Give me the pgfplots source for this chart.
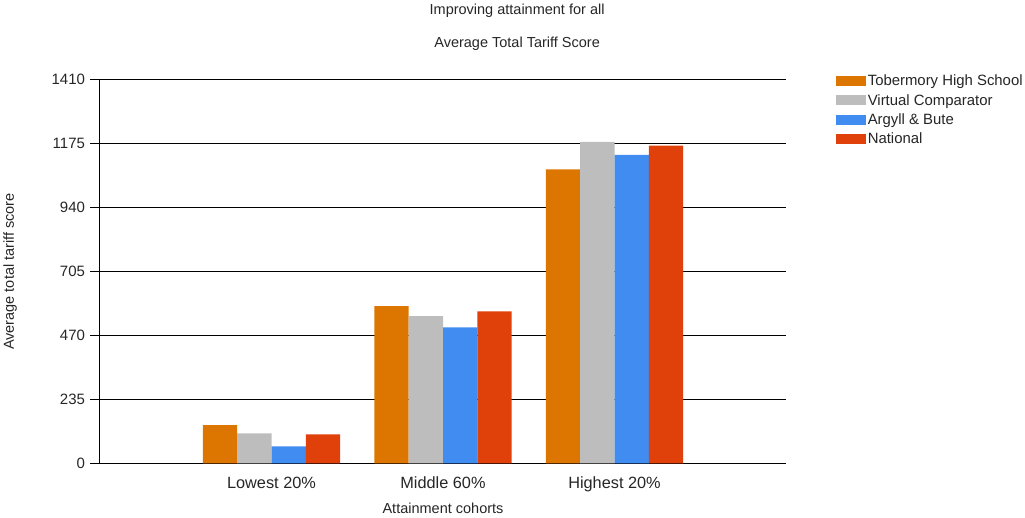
\documentclass[border=0pt]{standalone}
\usepackage{pgfplots}
\pgfplotsset{compat=1.18}
\usepackage{fontspec}
\setmainfont{Liberation Sans}

\definecolor{tobOrange}{HTML}{DD7600}
\definecolor{vcGray}{HTML}{BDBDBD}
\definecolor{abBlue}{HTML}{418CF0}
\definecolor{natRed}{HTML}{E0400A}

\pgfplotsset{
  swatch legend/.style={legend image code/.code={\fill[##1,draw=none] (0pt,-5pt) rectangle (30pt,5pt);}},
}

\begin{document}
\begin{tikzpicture}
\path[use as bounding box] (0,0) rectangle (1025pt,518pt);
\begin{axis}[
  at={(100pt,54.5pt)}, anchor=south west,
  scale only axis, width=686pt, height=384pt,
  ybar=0pt, bar width=0.2,
  swatch legend,
  xmin=-1, xmax=3, ymin=0, ymax=1410,
  axis x line*=bottom, axis y line*=left,
  axis line style={black, line width=1pt},
  xtick={0,1,2},
  xticklabels={Lowest 20\%, Middle 60\%, Highest 20\%},
  minor xtick={-0.5,0.5,1.5,2.5},
  xtick style={draw=none},
  minor x tick style={black, line width=1pt},
  minor tick length=6pt,
  ytick={0,235,470,705,940,1175,1410},
  ytick style={black, line width=1pt},
  major tick length=10pt,
  tick align=outside,
  ymajorgrids,
  grid style={black, line width=0.9pt},
  /pgf/number format/assume math mode=true,
  /pgf/number format/1000 sep={},
  yticklabel style={font=\fontsize{15}{16}\selectfont, text=black!85, xshift=-1.5pt},
  xticklabel style={font=\fontsize{16.3}{18}\selectfont, text=black!85, yshift=0pt},
  xlabel={Attainment cohorts},
  ylabel={Average total tariff score},
  every axis x label/.style={at={(rel axis cs:0.5,-0.118)}, anchor=center,
    font=\fontsize{14.5}{16}\selectfont, text=black!85},
  every axis y label/.style={at={(rel axis cs:-0.131,0.5)}, anchor=center, rotate=90,
    font=\fontsize{14.5}{16}\selectfont, text=black!85},
  legend style={at={(rel axis cs:1.073,1.016)}, anchor=north west, draw=none,
    font=\fontsize{14.9}{16}\selectfont, text=black!85,
    row sep=3.9pt, inner sep=0pt,
    nodes={inner sep=1.5pt, anchor=west},
    /tikz/every even column/.append style={column sep=9pt}},
  legend cell align=left,
  clip=false,
]
\addplot[fill=tobOrange, draw=none] coordinates {(0,141) (1,578) (2,1080)};
\addplot[fill=vcGray, draw=none] coordinates {(0,111) (1,541) (2,1181)};
\addplot[fill=abBlue, draw=none] coordinates {(0,63) (1,500) (2,1133)};
\addplot[fill=natRed, draw=none] coordinates {(0,107) (1,559) (2,1167)};
\legend{Tobermory High School, Virtual Comparator, Argyll \& Bute, National}
\node[font=\fontsize{14.5}{16}\selectfont, text=black!85] at (rel axis cs:0.608,1.178) {Improving attainment for all};
\node[font=\fontsize{14.5}{16}\selectfont, text=black!85] at (rel axis cs:0.608,1.092) {Average Total Tariff Score};
\end{axis}
\end{tikzpicture}
\end{document}
